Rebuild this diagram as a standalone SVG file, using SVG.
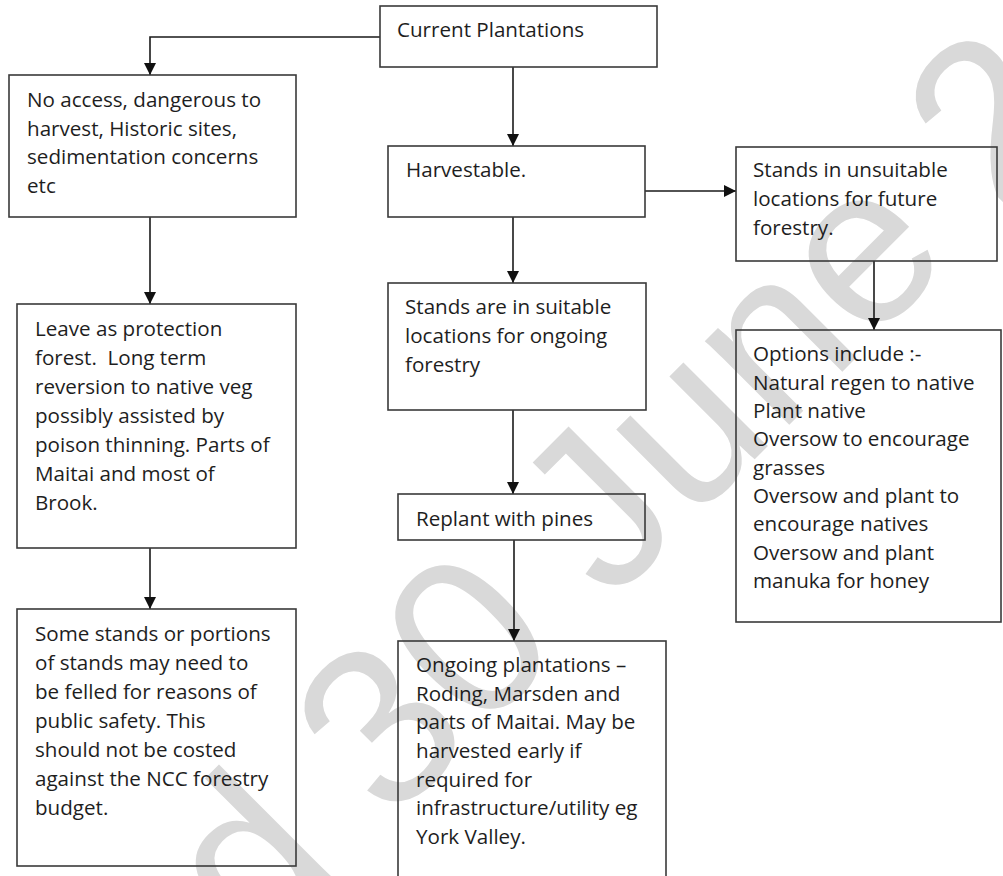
<svg xmlns="http://www.w3.org/2000/svg" width="1003" height="876" viewBox="0 0 1003 876">
<style>
.box{fill:none;stroke:#3a3a3a;stroke-width:1.6}
.t{font-family:"Open Sans","Liberation Sans",sans-serif;font-size:20.6px;fill:#1e1e1e}
.conn{fill:none;stroke:#1a1a1a;stroke-width:1.6}
.wm{font-family:"Liberation Sans",Arial,sans-serif;font-size:225px;fill:#d9d9d9}
</style>
<defs>
<marker id="ah" markerUnits="userSpaceOnUse" markerWidth="14" markerHeight="14" refX="12" refY="6.5" orient="auto">
<path d="M0,0.5 L12,6.5 L0,12.5 Z" fill="#111"/>
</marker>
</defs>
<rect width="1003" height="876" fill="#fff"/>
<text class="wm" transform="translate(168,1046) rotate(-45)">ed 30 June 20</text>
<g id="connectors">
<path class="conn" d="M380,37 H150 V75" marker-end="url(#ah)"/>
<path class="conn" d="M513,67 V146" marker-end="url(#ah)"/>
<path class="conn" d="M150,217 V304" marker-end="url(#ah)"/>
<path class="conn" d="M150,548 V609" marker-end="url(#ah)"/>
<path class="conn" d="M645,191 H736" marker-end="url(#ah)"/>
<path class="conn" d="M513,217 V283" marker-end="url(#ah)"/>
<path class="conn" d="M874,261 V330" marker-end="url(#ah)"/>
<path class="conn" d="M513,410 V494" marker-end="url(#ah)"/>
<path class="conn" d="M514,540 V641" marker-end="url(#ah)"/>
</g>
<g id="current">
<rect class="box" x="380" y="6" width="277" height="61"/>
<text class="t" x="397" y="37">Current Plantations</text>
</g>
<g id="noaccess">
<rect class="box" x="9" y="75" width="287" height="142"/>
<text class="t"><tspan x="27" y="107">No access, dangerous to</tspan><tspan x="27" y="135.5">harvest, Historic sites,</tspan><tspan x="27" y="164">sedimentation concerns</tspan><tspan x="27" y="192.5">etc</tspan></text>
</g>
<g id="protection">
<rect class="box" x="17" y="304" width="279" height="244"/>
<text class="t"><tspan x="35" y="336">Leave as protection</tspan><tspan x="35" y="365">forest.&#160; Long term</tspan><tspan x="35" y="394">reversion to native veg</tspan><tspan x="35" y="423">possibly assisted by</tspan><tspan x="35" y="452">poison thinning. Parts of</tspan><tspan x="35" y="481">Maitai and most of</tspan><tspan x="35" y="510">Brook.</tspan></text>
</g>
<g id="felled">
<rect class="box" x="17" y="609" width="279" height="257"/>
<text class="t"><tspan x="35" y="641">Some stands or portions</tspan><tspan x="35" y="670">of stands may need to</tspan><tspan x="35" y="699">be felled for reasons of</tspan><tspan x="35" y="728">public safety. This</tspan><tspan x="35" y="757">should not be costed</tspan><tspan x="35" y="786">against the NCC forestry</tspan><tspan x="35" y="815">budget.</tspan></text>
</g>
<g id="harvestable">
<rect class="box" x="388" y="146" width="257" height="71"/>
<text class="t" x="406" y="177">Harvestable.</text>
</g>
<g id="unsuitable">
<rect class="box" x="736" y="147" width="261" height="114"/>
<text class="t"><tspan x="753" y="177">Stands in unsuitable</tspan><tspan x="753" y="206">locations for future</tspan><tspan x="753" y="235">forestry.</tspan></text>
</g>
<g id="options">
<rect class="box" x="736" y="330" width="265" height="292"/>
<text class="t"><tspan x="753" y="361">Options include :-</tspan><tspan x="753" y="389.5">Natural regen to native</tspan><tspan x="753" y="418">Plant native</tspan><tspan x="753" y="446">Oversow to encourage</tspan><tspan x="753" y="474.5">grasses</tspan><tspan x="753" y="503">Oversow and plant to</tspan><tspan x="753" y="531">encourage natives</tspan><tspan x="753" y="559.5">Oversow and plant</tspan><tspan x="753" y="588">manuka for honey</tspan></text>
</g>
<g id="suitable">
<rect class="box" x="388" y="283" width="258" height="127"/>
<text class="t"><tspan x="405" y="314">Stands are in suitable</tspan><tspan x="405" y="343">locations for ongoing</tspan><tspan x="405" y="372">forestry</tspan></text>
</g>
<g id="replant">
<rect class="box" x="398" y="494" width="247" height="46"/>
<text class="t" x="416" y="526">Replant with pines</text>
</g>
<g id="ongoing">
<rect class="box" x="398" y="641" width="268" height="245"/>
<text class="t"><tspan x="416" y="672">Ongoing plantations –</tspan><tspan x="416" y="700.7">Roding, Marsden and</tspan><tspan x="416" y="729.3">parts of Maitai. May be</tspan><tspan x="416" y="758">harvested early if</tspan><tspan x="416" y="786.7">required for</tspan><tspan x="416" y="815.3">infrastructure/utility eg</tspan><tspan x="416" y="844">York Valley.</tspan></text>
</g>
</svg>
